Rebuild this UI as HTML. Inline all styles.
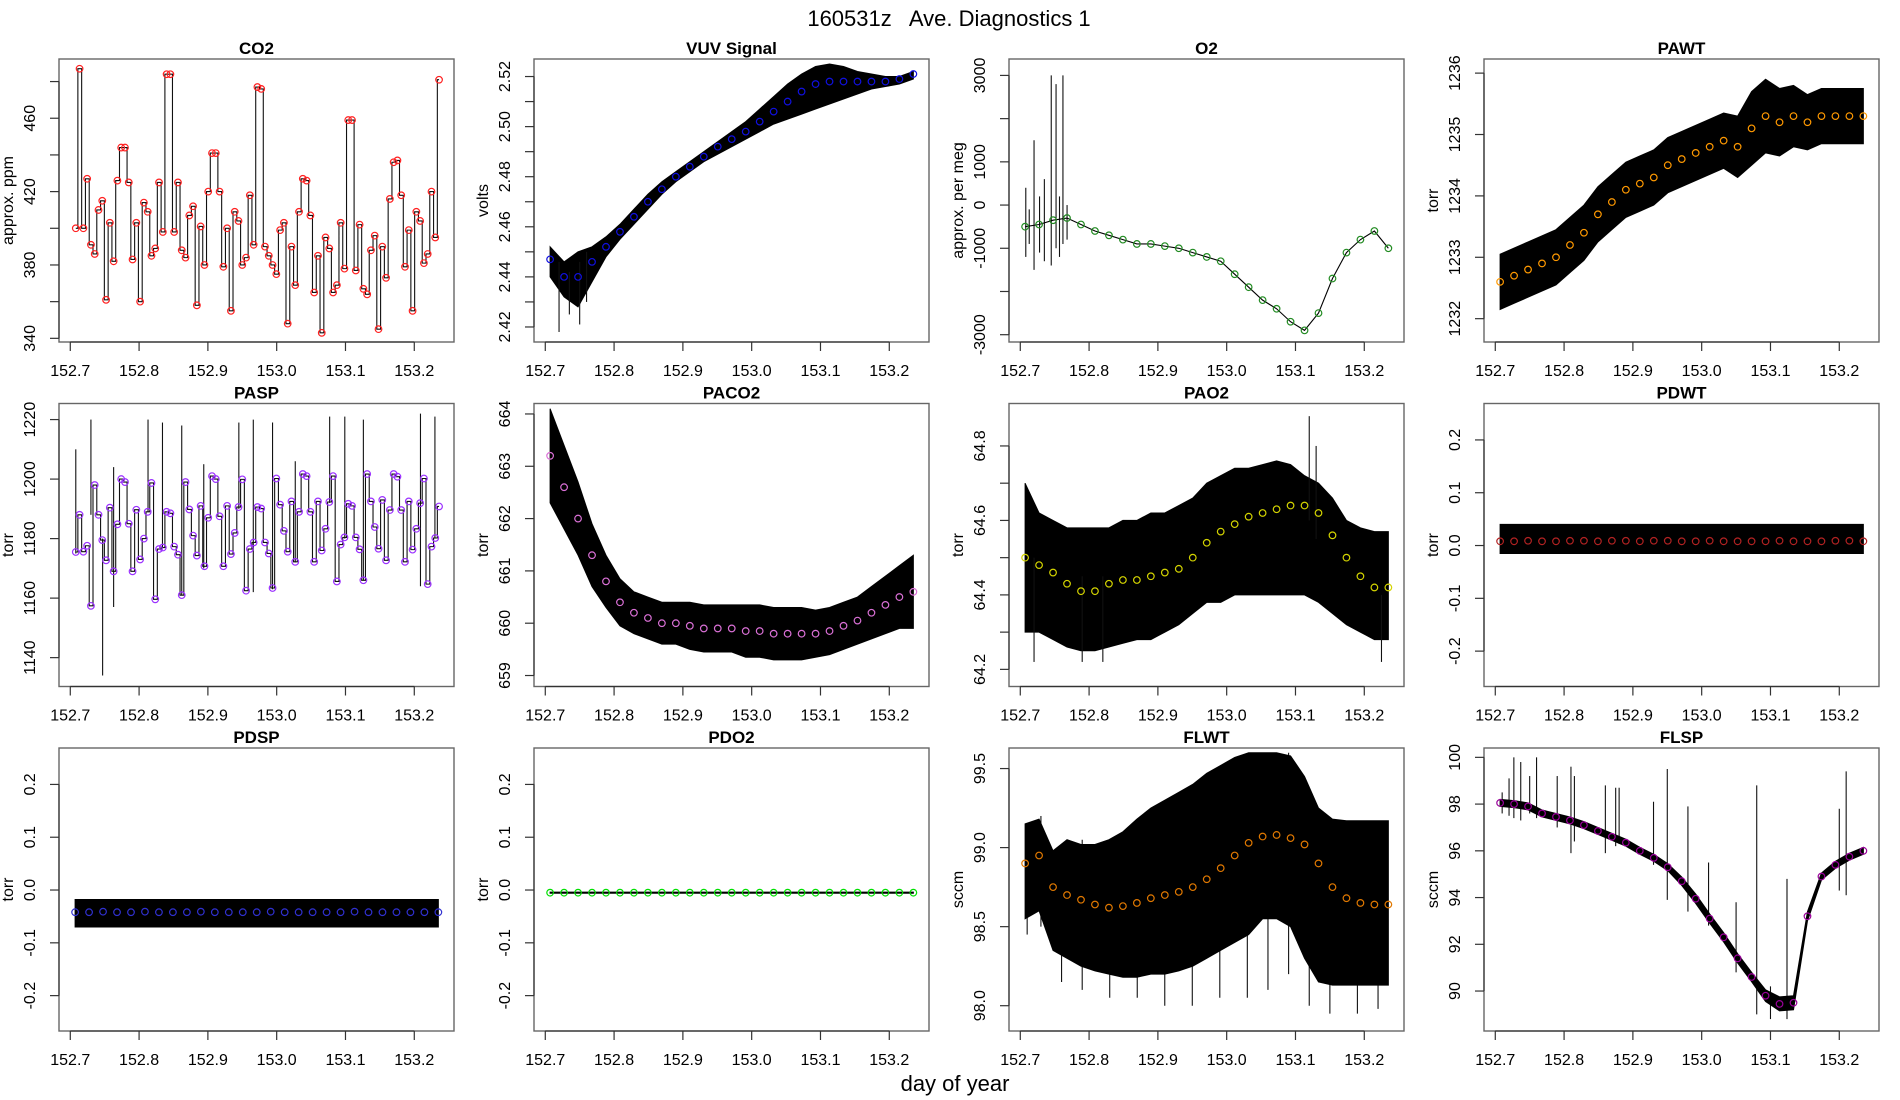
<!DOCTYPE html>
<html><head><meta charset="utf-8">
<style>
html,body{margin:0;padding:0;background:#fff;}
svg{display:block;font-family:"Liberation Sans",sans-serif;}
</style></head>
<body>
<svg id="chart" width="1900" height="1100" viewBox="0 0 1900 1100">
<text x="949" y="26" text-anchor="middle" font-size="22" style="white-space:pre" xml:space="preserve">160531z   Ave. Diagnostics 1</text>
<text x="955" y="1091" text-anchor="middle" font-size="22">day of year</text>
</svg>
<script>
// ---------- data ----------
const xTicks=[152.7,152.8,152.9,153.0,153.1,153.2];
const xTickLabels=["152.7","152.8","152.9","153.0","153.1","153.2"];
const co2Values=[400,487,400,427,391,386,410,415,361,403,382,426,444,444,425,383,403,360,414,409,385,389,425,398,484,484,398,425,388,384,407,412,358,401,380,420,441,441,420,379,400,355,409,404,380,384,418,391,477,476,390,385,380,375,399,403,348,390,369,409,427,426,407,365,385,343,395,389,365,369,403,378,459,459,377,402,367,364,388,396,345,390,373,416,436,437,418,379,399,355,409,404,381,386,420,395,481];
const paspValues=[1175.5,1188,1175.6,1177.6,1157.4,1198,1188,1179.5,1172.7,1190.4,1169,1184.8,1200,1199,1185,1169,1189.7,1173,1180,1189,1198.7,1159.6,1176.5,1177,1189,1188.5,1177.3,1174.6,1161,1199,1189.8,1181,1174.3,1191,1170.7,1187,1201,1200,1187.5,1170.7,1191,1174.8,1181.9,1190.6,1199.9,1162.5,1176.5,1178.7,1190.6,1190.1,1178.7,1175,1163.4,1200.2,1191.4,1182.6,1175.6,1192.5,1172.2,1189,1201.7,1201,1189,1172.2,1192.5,1176,1183.3,1192.3,1201,1165.6,1178,1180.4,1191.7,1191,1180.4,1176.4,1166,1201.7,1192.5,1183.9,1176.6,1193,1172.7,1189.6,1201.7,1200.8,1189.6,1172.2,1192.5,1176.3,1183.3,1191.9,1200.2,1164.7,1177.3,1180.2,1190.8];
const paspSpikeX=[152.708,152.73,152.747,152.763,152.813,152.834,152.862,152.894,152.945,152.966,152.994,153.027,153.077,153.099,153.126,153.209,153.23];
const paspSpikeLo=[1175,1188,1134,1157,1189,1177,1161,1170,1190,1162,1163,1172,1192,1180,1166,1164,1180];
const paspSpikeHi=[1210,1220,1180,1204,1220,1219,1218,1205,1219,1220,1219,1206,1221,1221,1220,1222,1221];
const vuvMean=[2.447,2.440,2.440,2.446,2.452,2.458,2.464,2.470,2.475,2.480,2.484,2.488,2.492,2.495,2.498,2.502,2.506,2.510,2.514,2.517,2.518,2.518,2.518,2.518,2.518,2.519,2.521];
const vuvLo=[2.440,2.432,2.428,2.438,2.448,2.455,2.461,2.467,2.473,2.478,2.482,2.486,2.489,2.492,2.495,2.498,2.501,2.503,2.505,2.507,2.509,2.511,2.513,2.515,2.516,2.517,2.519];
const vuvHi=[2.452,2.446,2.450,2.452,2.456,2.461,2.467,2.473,2.478,2.482,2.486,2.490,2.494,2.498,2.502,2.507,2.512,2.517,2.521,2.524,2.525,2.524,2.522,2.521,2.520,2.520,2.522];
const o2Mean=[-500,-450,-350,-300,-450,-600,-700,-800,-900,-900,-950,-1000,-1100,-1200,-1300,-1600,-1900,-2200,-2400,-2700,-2900,-2500,-1700,-1100,-800,-600,-1000];
const o2SpikeX=[152.708,152.713,152.72,152.728,152.735,152.745,152.752,152.757,152.762,152.768];
const o2SpikeLo=[-1200,-900,-1500,-1100,-1300,-1400,-1000,-1200,-900,-800];
const o2SpikeHi=[400,-100,1500,200,600,3000,2800,200,3000,0];
const pawtMean=[1232.6,1232.7,1232.8,1232.9,1233.0,1233.2,1233.4,1233.7,1233.9,1234.1,1234.2,1234.3,1234.5,1234.6,1234.7,1234.8,1234.9,1234.8,1235.1,1235.3,1235.2,1235.3,1235.2,1235.3,1235.3,1235.3,1235.3];
const pawtSpread=[0.45,0.45,0.45,0.45,0.45,0.45,0.45,0.45,0.45,0.45,0.45,0.45,0.45,0.45,0.45,0.45,0.45,0.5,0.6,0.6,0.55,0.5,0.45,0.45,0.45,0.45,0.45];
const paco2Mean=[663.2,662.6,662.0,661.3,660.8,660.4,660.2,660.1,660.0,660.0,659.95,659.9,659.9,659.9,659.85,659.85,659.8,659.8,659.8,659.8,659.85,659.95,660.05,660.2,660.35,660.5,660.6];
const paco2Spread=[0.9,0.8,0.7,0.6,0.5,0.45,0.4,0.4,0.4,0.4,0.45,0.45,0.45,0.45,0.5,0.5,0.5,0.5,0.5,0.45,0.45,0.45,0.45,0.5,0.55,0.6,0.7];
const pao2Mean=[64.50,64.48,64.46,64.43,64.41,64.41,64.43,64.44,64.44,64.45,64.46,64.47,64.50,64.54,64.57,64.59,64.61,64.62,64.63,64.64,64.64,64.62,64.56,64.50,64.45,64.42,64.42];
const pao2Lo=[64.30,64.30,64.28,64.26,64.25,64.25,64.26,64.27,64.28,64.28,64.30,64.32,64.35,64.38,64.38,64.40,64.40,64.40,64.40,64.40,64.40,64.38,64.35,64.32,64.30,64.28,64.28];
const pao2Hi=[64.70,64.62,64.60,64.58,64.58,64.58,64.58,64.60,64.60,64.62,64.62,64.64,64.66,64.70,64.72,64.74,64.74,64.75,64.76,64.75,64.72,64.70,64.66,64.60,64.58,64.57,64.57];
const pdwtMean=[0.008,0.008,0.009,0.008,0.008,0.009,0.009,0.008,0.009,0.009,0.008,0.009,0.009,0.008,0.008,0.009,0.008,0.008,0.008,0.008,0.009,0.008,0.008,0.008,0.009,0.009,0.008];
const pdwtLo=[-0.015,-0.015,-0.015,-0.015,-0.015,-0.015,-0.015,-0.015,-0.015,-0.015,-0.015,-0.015,-0.015,-0.015,-0.015,-0.015,-0.015,-0.015,-0.015,-0.015,-0.015,-0.015,-0.015,-0.015,-0.015,-0.015,-0.015];
const pdwtHi=[0.04,0.04,0.04,0.04,0.04,0.04,0.04,0.04,0.04,0.04,0.04,0.04,0.04,0.04,0.04,0.04,0.04,0.04,0.04,0.04,0.04,0.04,0.04,0.04,0.04,0.04,0.04];
const pdspMean=[-0.042,-0.042,-0.041,-0.042,-0.042,-0.041,-0.042,-0.042,-0.042,-0.041,-0.042,-0.042,-0.042,-0.042,-0.041,-0.042,-0.042,-0.042,-0.042,-0.042,-0.041,-0.042,-0.042,-0.042,-0.042,-0.042,-0.042];
const pdspLo=[-0.07,-0.07,-0.07,-0.07,-0.07,-0.07,-0.07,-0.07,-0.07,-0.07,-0.07,-0.07,-0.07,-0.07,-0.07,-0.07,-0.07,-0.07,-0.07,-0.07,-0.07,-0.07,-0.07,-0.07,-0.07,-0.07,-0.07];
const pdspHi=[-0.018,-0.018,-0.018,-0.018,-0.018,-0.018,-0.018,-0.018,-0.018,-0.018,-0.018,-0.018,-0.018,-0.018,-0.018,-0.018,-0.018,-0.018,-0.018,-0.018,-0.018,-0.018,-0.018,-0.018,-0.018,-0.018,-0.018];
const pdo2Mean=[-0.005,-0.005,-0.005,-0.005,-0.005,-0.005,-0.005,-0.005,-0.005,-0.005,-0.005,-0.005,-0.005,-0.005,-0.005,-0.005,-0.005,-0.005,-0.005,-0.005,-0.005,-0.005,-0.005,-0.005,-0.005,-0.005,-0.005];
const pdo2Lo=[-0.006,-0.006,-0.006,-0.006,-0.006,-0.006,-0.006,-0.006,-0.006,-0.006,-0.006,-0.006,-0.006,-0.006,-0.006,-0.006,-0.006,-0.006,-0.006,-0.006,-0.006,-0.006,-0.006,-0.006,-0.006,-0.006,-0.006];
const pdo2Hi=[-0.004,-0.004,-0.004,-0.004,-0.004,-0.004,-0.004,-0.004,-0.004,-0.004,-0.004,-0.004,-0.004,-0.004,-0.004,-0.004,-0.004,-0.004,-0.004,-0.004,-0.004,-0.004,-0.004,-0.004,-0.004,-0.004,-0.004];
const flwtMean=[98.90,98.95,98.75,98.70,98.67,98.64,98.62,98.63,98.65,98.68,98.70,98.72,98.75,98.80,98.87,98.95,99.03,99.07,99.08,99.06,99.02,98.90,98.75,98.68,98.65,98.64,98.64];
const flwtLo=[98.55,98.6,98.35,98.3,98.25,98.22,98.2,98.18,98.18,98.2,98.2,98.22,98.25,98.3,98.35,98.4,98.45,98.55,98.55,98.5,98.3,98.15,98.13,98.13,98.13,98.13,98.13];
const flwtHi=[99.15,99.18,98.98,99.05,99.02,99.02,99.05,99.10,99.18,99.25,99.3,99.35,99.4,99.47,99.52,99.57,99.6,99.6,99.6,99.58,99.45,99.25,99.18,99.17,99.17,99.17,99.17];
const flwtSpikeX=[152.71,152.73,152.76,152.79,152.83,152.87,152.91,152.95,152.99,153.03,153.06,153.09,153.12,153.15,153.19,153.22];
const flwtSpikeLo=[98.45,98.5,98.15,98.1,98.05,98.05,98.0,98.0,98.05,98.05,98.1,98.2,98.0,97.95,97.95,97.98];
const flwtSpikeHi=[99.15,99.2,99.0,99.05,99.05,99.1,99.2,99.3,99.35,99.45,99.55,99.6,99.3,99.17,99.17,99.17];
const flspMean=[98.05,98.0,97.9,97.6,97.45,97.3,97.1,96.85,96.6,96.35,96.0,95.7,95.3,94.7,93.95,93.1,92.3,91.4,90.6,89.8,89.45,89.5,93.2,94.9,95.4,95.75,96.0];
const flspSpread=[0.15,0.15,0.15,0.15,0.15,0.15,0.15,0.15,0.15,0.15,0.15,0.15,0.15,0.18,0.2,0.2,0.2,0.2,0.2,0.25,0.3,0.3,0.2,0.15,0.15,0.15,0.15];
const flspSpikeX=[152.71,152.72,152.727,152.737,152.75,152.76,152.79,152.81,152.815,152.86,152.875,152.88,152.93,152.95,152.98,153.01,153.05,153.08,153.1,153.124,153.2,153.21];
const flspSpikeLo=[97.6,97.5,97.4,97.3,97.6,97.4,97.0,95.9,96.4,95.9,96.2,96.3,95.4,93.9,93.4,92.8,90.8,89.0,88.8,88.8,94.3,94.1];
const flspSpikeHi=[98.5,99.1,100.0,99.8,99.2,100.0,99.2,99.6,99.2,98.8,98.7,98.7,98.1,99.5,97.9,95.5,93.8,98.8,90.2,94.8,97.8,99.4];

// ---------- layout ----------
const SVGNS="http://www.w3.org/2000/svg";
const svg=document.getElementById('chart');
const BOXW=395,BOXH=283,X0=59,Y0=59,DX=475,DY=344.5;
const XMIN=152.6836,XPX=688;
const T0=152.707,T1=153.235;

function el(tag,attrs,parent){
  const e=document.createElementNS(SVGNS,tag);
  for(const k in attrs)e.setAttribute(k,attrs[k]);
  (parent||svg).appendChild(e);
  return e;
}
function xAt(i,n,a,b){return a+(b-a)*i/(n-1);}

function makePanel(col,row,title,ylab,ymin,ymax,yTicks,yLabels){
  const bx=X0+DX*col,by=Y0+DY*row;
  const g=el('g',{});
  
  
  const sx=v=>bx+(v-XMIN)*XPX;
  const sy=v=>by+BOXH-(v-ymin)/(ymax-ymin)*BOXH;
  const t=el('text',{x:bx+BOXW/2,y:by-5,'text-anchor':'middle','font-size':17,'font-weight':'bold'},g);
  t.textContent=title;
  
  
  const box=el('rect',{x:bx,y:by,width:BOXW,height:BOXH,fill:'none',stroke:'#666','stroke-width':1.4},g);
  
  
  const xa=el('g',{},g);
  
  
  el('line',{x1:sx(xTicks[0]),x2:sx(xTicks[xTicks.length-1]),y1:by+BOXH,y2:by+BOXH,stroke:'#333','stroke-width':1.2},xa);
  xTicks.forEach((v,i)=>{
    el('line',{x1:sx(v),x2:sx(v),y1:by+BOXH,y2:by+BOXH+9,stroke:'#333','stroke-width':1.2},xa);
    const lt=el('text',{x:sx(v),y:by+BOXH+34,'text-anchor':'middle','font-size':16},xa);
    lt.textContent=xTickLabels[i];
    
    
  });
  const ya=el('g',{},g);
  
  
  el('line',{x1:bx,x2:bx,y1:sy(yTicks[0]),y2:sy(yTicks[yTicks.length-1]),stroke:'#333','stroke-width':1.2},ya);
  yTicks.forEach((v,i)=>{
    el('line',{x1:bx-9,x2:bx,y1:sy(v),y2:sy(v),stroke:'#333','stroke-width':1.2},ya);
    if(yLabels[i]!==''){
      const lx=bx-24,ly=sy(v);
      const lt=el('text',{x:lx,y:ly,'text-anchor':'middle','font-size':16,transform:`rotate(-90 ${lx} ${ly})`},ya);
      lt.textContent=yLabels[i];
      
      
    }
  });
  const tx=bx-46,ty=by+BOXH/2;
  const yt=el('text',{x:tx,y:ty,'text-anchor':'middle','font-size':16,transform:`rotate(-90 ${tx} ${ty})`},g);
  yt.textContent=ylab;
  
  
  return {g,sx,sy};
}

function drawBand(p,lo,hi,name){
  const n=lo.length;let d='';
  for(let i=0;i<n;i++)d+=(i?'L':'M')+p.sx(xAt(i,n,T0,T1))+','+p.sy(hi[i]);
  for(let i=n-1;i>=0;i--)d+='L'+p.sx(xAt(i,n,T0,T1))+','+p.sy(lo[i]);
  const e=el('path',{d:d+'Z',fill:'#000',stroke:'#000','stroke-width':1},p.g);
  
  
}
function drawSpikes(p,xs,lo,hi,name){
  xs.forEach((x,i)=>{
    const e=el('line',{x1:p.sx(x),x2:p.sx(x),y1:p.sy(lo[i]),y2:p.sy(hi[i]),stroke:'#111','stroke-width':1.1},p.g);
    
    
  });
}
function drawLine(p,vals,a,b,name,w){
  const n=vals.length;
  const pts=vals.map((v,i)=>p.sx(xAt(i,n,a,b))+','+p.sy(v)).join(' ');
  const e=el('polyline',{points:pts,fill:'none',stroke:'#000','stroke-width':w||1.1},p.g);
  
  
}
// step line: near-flat then vertical jump just before next sample
function drawStep(p,vals,a,b,name){
  const n=vals.length;let d='';
  for(let i=0;i<n;i++){
    const x=p.sx(xAt(i,n,a,b)),y=p.sy(vals[i]);
    if(i===0){d+='M'+x+','+y;continue;}
    const xp=p.sx(xAt(i-1,n,a,b));
    const xm=xp+(x-xp)*0.55;
    d+='L'+xm+','+p.sy(vals[i-1])+'L'+xm+','+y+'L'+x+','+y;
  }
  const e=el('path',{d:d,fill:'none',stroke:'#111','stroke-width':1.1},p.g);
  
  
}
function drawCircles(p,vals,a,b,color,name){
  const n=vals.length;
  vals.forEach((v,i)=>{
    const c=el('circle',{cx:p.sx(xAt(i,n,a,b)),cy:p.sy(v),r:3.3,fill:'none',stroke:color,'stroke-width':1.2},p.g);
    
    
  });
}
function addSpread(m,s,sign){return m.map((v,i)=>v+sign*s[i]);}

let p=makePanel(0,0,'CO2','approx. ppm',338,492.3,[340,360,380,400,420,440,460,480],['340','','380','','420','','460','']);
drawStep(p,co2Values,152.708,153.236,'co2-line');
drawCircles(p,co2Values,152.708,153.236,'#ff2020','co2-point');

p=makePanel(1,0,'VUV Signal','volts',2.414,2.527,[2.42,2.43,2.44,2.45,2.46,2.47,2.48,2.49,2.50,2.51,2.52],['2.42','','2.44','','2.46','','2.48','','2.50','','2.52']);
drawBand(p,vuvLo,vuvHi,'vuv-band');
drawSpikes(p,[152.72,152.735,152.75,152.76],[2.418,2.425,2.421,2.43],[2.446,2.442,2.446,2.45],'vuv-spike');
drawCircles(p,vuvMean,T0,T1,'#1010e0','vuv-point');

p=makePanel(2,0,'O2','approx. per meg',-3169,3380,[-3000,-2000,-1000,0,1000,2000,3000],['-3000','','-1000','0','1000','','3000']);
drawSpikes(p,o2SpikeX,o2SpikeLo,o2SpikeHi,'o2-spike');
drawLine(p,o2Mean,T0,T1,'o2-line',1.1);
drawCircles(p,o2Mean,T0,T1,'#228b22','o2-point');

p=makePanel(3,0,'PAWT','torr',1231.62,1236.23,[1232,1233,1234,1235,1236],['1232','1233','1234','1235','1236']);
drawBand(p,addSpread(pawtMean,pawtSpread,-1),addSpread(pawtMean,pawtSpread,1),'pawt-band');
drawCircles(p,pawtMean,T0,T1,'#ff9900','pawt-point');

p=makePanel(0,1,'PASP','torr',1130.3,1225.4,[1140,1160,1180,1200,1220],['1140','1160','1180','1200','1220']);
drawSpikes(p,paspSpikeX,paspSpikeLo,paspSpikeHi,'pasp-spike');
drawStep(p,paspValues,152.708,153.236,'pasp-line');
drawCircles(p,paspValues,152.708,153.236,'#9b30ff','pasp-point');

p=makePanel(1,1,'PACO2','torr',658.79,664.2,[659,660,661,662,663,664],['659','660','661','662','663','664']);
drawBand(p,addSpread(paco2Mean,paco2Spread,-1),addSpread(paco2Mean,paco2Spread,1),'paco2-band');
drawCircles(p,paco2Mean,T0,T1,'#da70d6','paco2-point');

p=makePanel(2,1,'PAO2','torr',64.154,64.914,[64.2,64.3,64.4,64.5,64.6,64.7,64.8],['64.2','','64.4','','64.6','','64.8']);
drawBand(p,pao2Lo,pao2Hi,'pao2-band');
drawSpikes(p,[152.72,152.79,152.82,153.12,153.13,153.225],[64.22,64.22,64.22,64.6,64.55,64.22],[64.5,64.45,64.45,64.88,64.8,64.4],'pao2-spike');
drawCircles(p,pao2Mean,T0,T1,'#d4d400','pao2-point');

p=makePanel(3,1,'PDWT','torr',-0.267,0.269,[-0.2,-0.1,0,0.1,0.2],['-0.2','-0.1','0.0','0.1','0.2']);
drawBand(p,pdwtLo,pdwtHi,'pdwt-band');
drawCircles(p,pdwtMean,T0,T1,'#b22222','pdwt-point');

p=makePanel(0,2,'PDSP','torr',-0.267,0.269,[-0.2,-0.1,0,0.1,0.2],['-0.2','-0.1','0.0','0.1','0.2']);
drawBand(p,pdspLo,pdspHi,'pdsp-band');
drawCircles(p,pdspMean,T0,T1,'#3030d0','pdsp-point');

p=makePanel(1,2,'PDO2','torr',-0.267,0.269,[-0.2,-0.1,0,0.1,0.2],['-0.2','-0.1','0.0','0.1','0.2']);
drawBand(p,pdo2Lo,pdo2Hi,'pdo2-band');
drawCircles(p,pdo2Mean,T0,T1,'#00e000','pdo2-point');

p=makePanel(2,2,'FLWT','sccm',97.84,99.63,[98.0,98.5,99.0,99.5],['98.0','98.5','99.0','99.5']);
drawSpikes(p,flwtSpikeX,flwtSpikeLo,flwtSpikeHi,'flwt-spike');
drawBand(p,flwtLo,flwtHi,'flwt-band');
drawCircles(p,flwtMean,T0,T1,'#e07800','flwt-point');

p=makePanel(3,2,'FLSP','sccm',88.29,100.4,[90,92,94,96,98,100],['90','92','94','96','98','100']);
drawSpikes(p,flspSpikeX,flspSpikeLo,flspSpikeHi,'flsp-spike');
drawBand(p,addSpread(flspMean,flspSpread,-1),addSpread(flspMean,flspSpread,1),'flsp-band');
drawCircles(p,flspMean,T0,T1,'#9a009a','flsp-point');
</script>
</body></html>
